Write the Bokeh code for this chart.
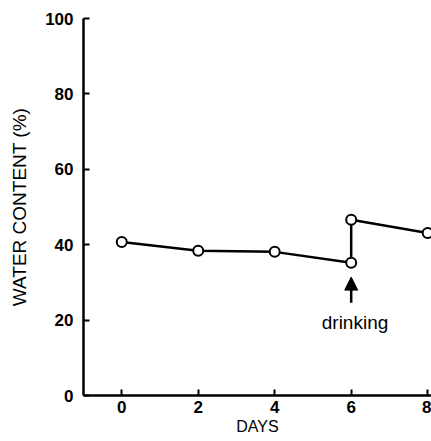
from bokeh.plotting import figure
from bokeh.models import Range1d, Label, Arrow, NormalHead, FixedTicker
from bokeh.embed import file_html
from bokeh.resources import INLINE

# data
days = [0, 2, 4, 6, 6, 8]
water = [40.7, 38.4, 38.1, 35.2, 46.6, 43.1]
x_ticks = [0, 2, 4, 6, 8]
y_ticks = [0, 20, 40, 60, 80, 100]
arrow_day = 6
arrow_from = 24.6
arrow_to = 31.4
note_x = 6.1
note_y = 19.3
note = "drinking"
x_title = "DAYS"
y_title = "WATER CONTENT (%)"

FONT = "Liberation Sans"

p = figure(width=431, height=441,
           x_range=Range1d(-1, 8.1), y_range=Range1d(0, 100),
           output_backend="svg", toolbar_location=None,
           min_border_left=83, min_border_right=0,
           min_border_top=18, min_border_bottom=46)
p.background_fill_color = "white"
p.border_fill_color = "white"
p.outline_line_color = None
p.grid.visible = False

for ax in (p.xaxis[0], p.yaxis[0]):
    ax.axis_line_width = 2.5
    ax.axis_line_color = "black"
    ax.major_tick_in = 6
    ax.major_tick_out = 0
    ax.major_tick_line_width = 2
    ax.major_tick_line_color = "black"
    ax.minor_tick_line_color = None
    ax.major_label_text_font = FONT
    ax.major_label_text_font_size = "17px"
    ax.major_label_text_font_style = "bold"
    ax.major_label_text_color = "black"
    ax.axis_label_text_font = FONT
    ax.axis_label_text_font_style = "normal"
    ax.axis_label_text_color = "black"

p.xaxis.ticker = FixedTicker(ticks=x_ticks)
p.yaxis.ticker = FixedTicker(ticks=y_ticks)
p.xaxis.major_label_standoff = 5
p.yaxis.major_label_standoff = 10

p.yaxis.axis_label = y_title
p.yaxis.axis_label_text_font_size = "19px"
p.yaxis.axis_label_standoff = 12

p.xaxis.axis_label = x_title
p.xaxis.axis_label_text_font_size = "16px"
p.xaxis.axis_label_standoff = 2

p.line(days, water, line_width=2.5, line_color="black")
p.scatter(days, water, size=10, fill_color="white", line_color="black", line_width=2)

p.add_layout(Arrow(end=NormalHead(size=13, fill_color="black", line_color="black"),
                   x_start=arrow_day, y_start=arrow_from, x_end=arrow_day, y_end=arrow_to,
                   line_width=2.5, line_color="black"))

p.add_layout(Label(x=note_x, y=note_y, text=note, text_align="center",
                   text_baseline="alphabetic", text_font=FONT,
                   text_font_size="19px", text_color="black"))

open("out.html", "w").write(file_html(p, INLINE))
